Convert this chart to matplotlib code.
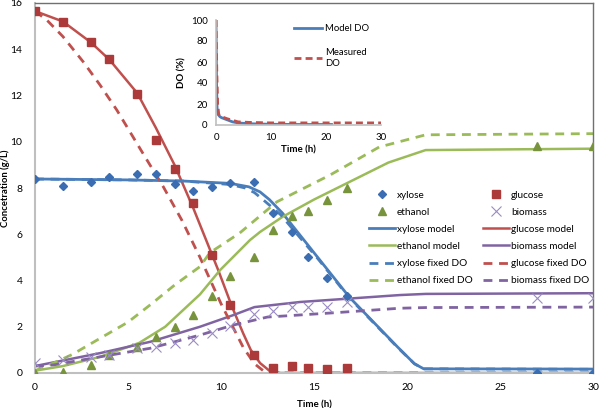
import matplotlib
matplotlib.use("Agg")
import matplotlib.pyplot as plt
import numpy as np

plt.rcParams['font.family'] = ['Lato', 'DejaVu Sans']

# measured points
t_pts = [0, 1.5, 3, 4, 5.5, 6.5, 7.5, 8.5, 9.5, 10.5, 11.8, 12.8, 13.8, 14.7, 15.7, 16.8, 27, 30]
xylose = [8.39, 8.09, 8.26, 8.48, 8.6, 8.62, 8.17, 7.87, 8.04, 8.2, 8.26, 6.9, 6.1, 5.0, 4.1, 3.33, 0.0, 0.0]
ethanol = [0.0, 0.04, 0.35, 0.78, 1.13, 1.55, 1.97, 2.5, 3.33, 4.2, 5.0, 6.18, 6.8, 7.0, 7.48, 8.0, 9.8, 9.8]
biomass = [0.43, 0.56, 0.7, 0.8, 1.07, 1.13, 1.3, 1.43, 1.73, 2.03, 2.55, 2.68, 2.85, 2.85, 2.85, 3.07, 3.24, 3.24]
t_glc = [0, 1.5, 3, 4, 5.5, 6.5, 7.5, 8.5, 9.5, 10.5, 11.8, 12.8, 13.8, 14.7, 15.7, 16.8]
glucose = [15.65, 15.18, 14.3, 13.57, 12.06, 10.08, 8.8, 7.35, 5.1, 2.94, 0.78, 0.22, 0.3, 0.22, 0.17, 0.22]

# model curves
t_xm = [0, 5, 8, 10.5, 11.5, 12.1, 12.6, 13.3, 15.2, 16.9, 19.5, 20.4, 20.9, 30]
xyl_model = [8.39, 8.35, 8.3, 8.2, 8.05, 7.83, 7.5, 6.92, 5.0, 3.28, 1.12, 0.4, 0.18, 0.17]
t_xf = [0, 5, 8, 10.5, 11.3, 11.8, 12.4, 13.2, 15.2, 16.9, 19.5, 20.4, 20.9, 30]
xyl_fixed = [8.39, 8.35, 8.3, 8.15, 8.0, 7.8, 7.4, 6.85, 4.95, 3.25, 1.1, 0.4, 0.18, 0.16]

t_gm = [0, 1.5, 3, 4, 5.5, 6.5, 7.5, 8.5, 9.85, 10.6, 11.2, 11.6, 12.1, 12.6, 13.2, 30]
glc_model = [15.65, 15.2, 14.3, 13.55, 12.1, 10.6, 9.0, 7.15, 4.45, 2.85, 1.7, 1.0, 0.43, 0.1, 0.0, 0.0]
t_gf = [0, 0.64, 1.5, 2.6, 3.5, 4.4, 5.8, 6.9, 7.9, 8.87, 10.0, 11.2, 11.8, 12.3, 12.8, 30]
glc_fixed = [15.65, 15.26, 14.55, 13.45, 12.45, 11.37, 9.5, 8.05, 6.6, 5.0, 3.0, 1.1, 0.4, 0.08, 0.0, 0.0]

t_em = [0, 1.5, 3.5, 5.6, 7, 8.87, 9.95, 11.56, 12.1, 13.3, 15, 17, 19, 21, 30]
eth_model = [0.1, 0.3, 0.7, 1.3, 2.0, 3.4, 4.45, 5.75, 6.1, 6.75, 7.5, 8.3, 9.1, 9.64, 9.7]
t_ef = [0, 1, 2, 3.5, 5, 6.2, 7.5, 8.87, 9.4, 11, 13, 15.86, 18.5, 21, 30]
eth_fixed = [0.1, 0.43, 0.8, 1.5, 2.2, 2.95, 3.8, 4.6, 5.2, 6.05, 7.4, 8.56, 9.77, 10.3, 10.35]

t_bm = [0, 3.5, 6.2, 8.87, 10.65, 11.8, 14.25, 19.6, 21, 30]
bio_model = [0.3, 0.86, 1.35, 2.0, 2.5, 2.85, 3.07, 3.37, 3.42, 3.45]
t_bf = [0, 1, 3.5, 6.2, 8.87, 10.65, 12.5, 16, 19.6, 21, 30]
bio_fixed = [0.3, 0.35, 0.7, 1.07, 1.64, 2.07, 2.42, 2.6, 2.8, 2.83, 2.85]

# inset DO
t_do_model = [0, 0.1, 0.2, 0.4, 0.7, 1, 2, 3, 4, 6, 10, 15, 21]
do_model = [100, 40, 15, 10, 8, 7, 5, 3, 2, 1.2, 0.7, 0.5, 0.5]
t_do_meas = [0, 0.15, 0.3, 0.5, 1, 2, 3, 4, 6, 10, 20, 30]
do_meas = [100, 50, 20, 10, 8, 6, 4.5, 3, 2.5, 2, 2, 2]

c_blue = '#4a7ebb'
c_red = '#c0504d'
c_green = '#9bbb59'
c_purple = '#8064a2'

fig = plt.figure(figsize=(6, 4.08), dpi=100)
ax = fig.add_axes([35/600, 1-373/408, 558/600, 370/408])

dash = (0, (3.2, 2.4))
ax.plot(t_pts, xylose, 'D', color='#3b6db3', ms=4.3, ls='none', label='xylose', zorder=5)
ax.plot(t_glc, glucose, 's', color='#ad3a3a', ms=5.8, ls='none', label='glucose', zorder=5)
ax.plot(t_pts, ethanol, '^', color='#77933c', ms=5.8, ls='none', label='ethanol', zorder=5)
ax.plot(t_pts, biomass, 'x', color='#9a8bc4', ms=6.5, mew=0.8, ls='none', label='biomass', zorder=5)
ax.plot(t_xm, xyl_model, color=c_blue, lw=2, label='xylose model')
ax.plot(t_gm, glc_model, color=c_red, lw=1.8, label='glucose model')
ax.plot(t_em, eth_model, color=c_green, lw=1.8, label='ethanol model')
ax.plot(t_bm, bio_model, color=c_purple, lw=1.8, label='biomass model')
ax.plot(t_xf, xyl_fixed, color=c_blue, lw=2, ls=dash, label='xylose fixed DO')
ax.plot(t_gf, glc_fixed, color=c_red, lw=2, ls=dash, label='glucose fixed DO')
ax.plot(t_ef, eth_fixed, color=c_green, lw=2, ls=dash, label='ethanol fixed DO')
ax.plot(t_bf, bio_fixed, color=c_purple, lw=2, ls=dash, label='biomass fixed DO')

ax.set_xlim(0, 30)
ax.set_ylim(0, 16)
ax.set_xticks(range(0, 31, 5))
ax.set_yticks(range(0, 17, 2))
ax.tick_params(axis='x', length=0, labelsize=7.5, pad=7)
ax.tick_params(axis='y', length=0, labelsize=7.5, pad=9)
for s in ['left', 'bottom']:
    ax.spines[s].set_color('#bfbfbf')
    ax.spines[s].set_linewidth(1.5)
for s in ['top', 'right']:
    ax.spines[s].set_color('#707070')
    ax.spines[s].set_linewidth(1)
ax.set_xlabel('Time (h)', fontsize=7, fontweight='bold', labelpad=6)
ax.set_ylabel('Concetration (g/L)', fontsize=6.8, fontweight='bold')
ax.yaxis.set_label_coords(-0.045, 0.5)

h, l = ax.get_legend_handles_labels()
order = [0, 2, 4, 6, 8, 10, 1, 3, 5, 7, 9, 11]
ax.legend([h[i] for i in order], [l[i] for i in order], ncol=2, frameon=False,
          fontsize=7.2, handlelength=2.6, handletextpad=0.2, columnspacing=1.0,
          labelspacing=0.8, borderpad=0, numpoints=1,
          loc='upper left', bbox_to_anchor=(364/600, 1-186/408),
          bbox_transform=fig.transFigure)

# inset
ins = fig.add_axes([216/600, 1-125/408, 165/600, 105/408])
ins.patch.set_alpha(0)
ins.plot(t_do_model, do_model, color=c_blue, lw=2, label='Model DO')
ins.plot(t_do_meas, do_meas, color=c_red, lw=2, ls=(0, (2.5, 1.5)), label='Measured\nDO')
ins.set_xlim(0, 30)
ins.set_ylim(0, 100)
ins.set_xticks([0, 10, 20, 30])
ins.set_yticks(range(0, 101, 20))
ins.tick_params(length=0, labelsize=7, pad=6)
for s in ['top', 'right']:
    ins.spines[s].set_visible(False)
for s in ['left', 'bottom']:
    ins.spines[s].set_color('#bfbfbf')
    ins.spines[s].set_linewidth(1.2)
ins.set_xlabel('Time (h)', fontsize=7, fontweight='bold', labelpad=2)
ins.set_ylabel('DO (%)', fontsize=7, fontweight='bold', labelpad=3)
ins.legend(frameon=False, fontsize=6.8, loc='upper left', bbox_to_anchor=(0.42, 1.04),
           handlelength=3.0, handletextpad=0.3, labelspacing=1.6)

fig.savefig('out.png', dpi=100)
